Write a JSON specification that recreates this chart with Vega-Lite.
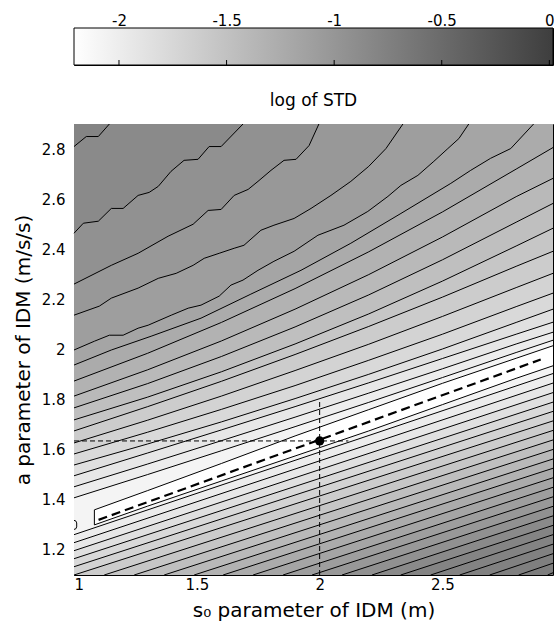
{
  "$schema": "https://vega.github.io/schema/vega-lite/v6.json",
  "padding": {"left": 12, "top": 12, "right": 2, "bottom": 2},
  "background": "white",
  "config": {
    "font": "DejaVu Sans",
    "axis": {"labelFont": "DejaVu Sans", "labelFontSize": 15, "labelColor": "black", "titleFont": "DejaVu Sans", "titleFontSize": 20, "titleFontWeight": "normal", "titleColor": "black", "domain": false, "grid": false, "tickColor": "black", "tickSize": -5, "labelPadding": 11},
    "title": {"font": "DejaVu Sans", "fontSize": 17, "fontWeight": "normal", "color": "black"},
    "view": {"stroke": "black"}
  },
  "datasets": {
    "loop": [
      {"x": 1.083, "lo": 1.300, "hi": 1.360},
      {"x": 1.3, "lo": 1.375, "hi": 1.437},
      {"x": 1.6, "lo": 1.475, "hi": 1.545},
      {"x": 1.9, "lo": 1.575, "hi": 1.655},
      {"x": 2.2, "lo": 1.675, "hi": 1.760},
      {"x": 2.5, "lo": 1.780, "hi": 1.865},
      {"x": 2.8, "lo": 1.885, "hi": 1.965},
      {"x": 2.95, "lo": 1.935, "hi": 2.015}
    ],
    "lines": [
      {"id": "P2", "k": 2, "s": "up", "x": 1.0, "y": 1.408}, {"id": "P2", "k": 2, "s": "up", "x": 1.3, "y": 1.501}, {"id": "P2", "k": 2, "s": "up", "x": 1.6, "y": 1.596}, {"id": "P2", "k": 2, "s": "up", "x": 1.9, "y": 1.692}, {"id": "P2", "k": 2, "s": "up", "x": 2.2, "y": 1.789}, {"id": "P2", "k": 2, "s": "up", "x": 2.5, "y": 1.888}, {"id": "P2", "k": 2, "s": "up", "x": 2.8, "y": 1.988}, {"id": "P2", "k": 2, "s": "up", "x": 2.95, "y": 2.037},
      {"id": "P", "k": 3, "s": "up", "x": 1.0, "y": 1.452}, {"id": "P", "k": 3, "s": "up", "x": 1.3, "y": 1.543}, {"id": "P", "k": 3, "s": "up", "x": 1.6, "y": 1.636}, {"id": "P", "k": 3, "s": "up", "x": 1.9, "y": 1.730}, {"id": "P", "k": 3, "s": "up", "x": 2.2, "y": 1.826}, {"id": "P", "k": 3, "s": "up", "x": 2.5, "y": 1.923}, {"id": "P", "k": 3, "s": "up", "x": 2.8, "y": 2.022}, {"id": "P", "k": 3, "s": "up", "x": 2.95, "y": 2.069},
      {"id": "O", "k": 4, "s": "up", "x": 1.0, "y": 1.496}, {"id": "O", "k": 4, "s": "up", "x": 1.3, "y": 1.587}, {"id": "O", "k": 4, "s": "up", "x": 1.6, "y": 1.679}, {"id": "O", "k": 4, "s": "up", "x": 1.9, "y": 1.772}, {"id": "O", "k": 4, "s": "up", "x": 2.2, "y": 1.867}, {"id": "O", "k": 4, "s": "up", "x": 2.5, "y": 1.964}, {"id": "O", "k": 4, "s": "up", "x": 2.8, "y": 2.061}, {"id": "O", "k": 4, "s": "up", "x": 2.95, "y": 2.109},
      {"id": "N", "k": 5, "s": "up", "x": 1.0, "y": 1.539}, {"id": "N", "k": 5, "s": "up", "x": 1.3, "y": 1.623}, {"id": "N", "k": 5, "s": "up", "x": 1.6, "y": 1.711}, {"id": "N", "k": 5, "s": "up", "x": 1.9, "y": 1.804}, {"id": "N", "k": 5, "s": "up", "x": 2.2, "y": 1.901}, {"id": "N", "k": 5, "s": "up", "x": 2.5, "y": 2.002}, {"id": "N", "k": 5, "s": "up", "x": 2.8, "y": 2.108}, {"id": "N", "k": 5, "s": "up", "x": 2.95, "y": 2.161},
      {"id": "M", "k": 6, "s": "up", "x": 1.0, "y": 1.583}, {"id": "M", "k": 6, "s": "up", "x": 1.3, "y": 1.670}, {"id": "M", "k": 6, "s": "up", "x": 1.6, "y": 1.761}, {"id": "M", "k": 6, "s": "up", "x": 1.9, "y": 1.856}, {"id": "M", "k": 6, "s": "up", "x": 2.2, "y": 1.957}, {"id": "M", "k": 6, "s": "up", "x": 2.5, "y": 2.061}, {"id": "M", "k": 6, "s": "up", "x": 2.8, "y": 2.171}, {"id": "M", "k": 6, "s": "up", "x": 2.95, "y": 2.225},
      {"id": "L", "k": 7, "s": "up", "x": 1.0, "y": 1.627}, {"id": "L", "k": 7, "s": "up", "x": 1.3, "y": 1.718}, {"id": "L", "k": 7, "s": "up", "x": 1.6, "y": 1.814}, {"id": "L", "k": 7, "s": "up", "x": 1.9, "y": 1.916}, {"id": "L", "k": 7, "s": "up", "x": 2.2, "y": 2.021}, {"id": "L", "k": 7, "s": "up", "x": 2.5, "y": 2.132}, {"id": "L", "k": 7, "s": "up", "x": 2.8, "y": 2.247}, {"id": "L", "k": 7, "s": "up", "x": 2.95, "y": 2.304},
      {"id": "K", "k": 8, "s": "up", "x": 1.0, "y": 1.675}, {"id": "K", "k": 8, "s": "up", "x": 1.3, "y": 1.772}, {"id": "K", "k": 8, "s": "up", "x": 1.6, "y": 1.873}, {"id": "K", "k": 8, "s": "up", "x": 1.9, "y": 1.980}, {"id": "K", "k": 8, "s": "up", "x": 2.2, "y": 2.092}, {"id": "K", "k": 8, "s": "up", "x": 2.5, "y": 2.209}, {"id": "K", "k": 8, "s": "up", "x": 2.8, "y": 2.332}, {"id": "K", "k": 8, "s": "up", "x": 2.95, "y": 2.392},
      {"id": "J", "k": 9, "s": "up", "x": 1.0, "y": 1.719}, {"id": "J", "k": 9, "s": "up", "x": 1.3, "y": 1.810}, {"id": "J", "k": 9, "s": "up", "x": 1.6, "y": 1.911}, {"id": "J", "k": 9, "s": "up", "x": 1.9, "y": 2.022}, {"id": "J", "k": 9, "s": "up", "x": 2.2, "y": 2.142}, {"id": "J", "k": 9, "s": "up", "x": 2.5, "y": 2.273}, {"id": "J", "k": 9, "s": "up", "x": 2.8, "y": 2.413}, {"id": "J", "k": 9, "s": "up", "x": 2.95, "y": 2.484},
      {"id": "I", "k": 10, "s": "up", "x": 1.0, "y": 1.767}, {"id": "I", "k": 10, "s": "up", "x": 1.3, "y": 1.864}, {"id": "I", "k": 10, "s": "up", "x": 1.6, "y": 1.972}, {"id": "I", "k": 10, "s": "up", "x": 1.9, "y": 2.090}, {"id": "I", "k": 10, "s": "up", "x": 2.2, "y": 2.218}, {"id": "I", "k": 10, "s": "up", "x": 2.5, "y": 2.358}, {"id": "I", "k": 10, "s": "up", "x": 2.8, "y": 2.508}, {"id": "I", "k": 10, "s": "up", "x": 2.95, "y": 2.583},
      {"id": "H", "k": 11, "s": "up", "x": 1.0, "y": 1.814}, {"id": "H", "k": 11, "s": "up", "x": 1.3, "y": 1.919}, {"id": "H", "k": 11, "s": "up", "x": 1.6, "y": 2.034}, {"id": "H", "k": 11, "s": "up", "x": 1.9, "y": 2.161}, {"id": "H", "k": 11, "s": "up", "x": 2.2, "y": 2.299}, {"id": "H", "k": 11, "s": "up", "x": 2.5, "y": 2.449}, {"id": "H", "k": 11, "s": "up", "x": 2.8, "y": 2.610}, {"id": "H", "k": 11, "s": "up", "x": 2.95, "y": 2.683},
      {"id": "G", "k": 12, "s": "up", "x": 1.0, "y": 1.874}, {"id": "G", "k": 12, "s": "up", "x": 1.3, "y": 1.985}, {"id": "G", "k": 12, "s": "up", "x": 1.6, "y": 2.108}, {"id": "G", "k": 12, "s": "up", "x": 1.9, "y": 2.243}, {"id": "G", "k": 12, "s": "up", "x": 2.2, "y": 2.390}, {"id": "G", "k": 12, "s": "up", "x": 2.5, "y": 2.549}, {"id": "G", "k": 12, "s": "up", "x": 2.8, "y": 2.720}, {"id": "G", "k": 12, "s": "up", "x": 2.95, "y": 2.806},
      {"id": "F", "k": 13, "s": "up", "x": 1.0, "y": 1.938}, {"id": "F", "k": 13, "s": "up", "x": 1.152, "y": 1.998}, {"id": "F", "k": 13, "s": "up", "x": 1.314, "y": 2.053}, {"id": "F", "k": 13, "s": "up", "x": 1.517, "y": 2.125}, {"id": "F", "k": 13, "s": "up", "x": 1.72, "y": 2.221}, {"id": "F", "k": 13, "s": "up", "x": 1.924, "y": 2.316}, {"id": "F", "k": 13, "s": "up", "x": 2.127, "y": 2.424}, {"id": "F", "k": 13, "s": "up", "x": 2.331, "y": 2.543}, {"id": "F", "k": 13, "s": "up", "x": 2.534, "y": 2.663}, {"id": "F", "k": 13, "s": "up", "x": 2.615, "y": 2.715}, {"id": "F", "k": 13, "s": "up", "x": 2.696, "y": 2.763}, {"id": "F", "k": 13, "s": "up", "x": 2.778, "y": 2.802}, {"id": "F", "k": 13, "s": "up", "x": 2.871, "y": 2.9},
      {"id": "E", "k": 14, "s": "up", "x": 1.0, "y": 1.998}, {"id": "E", "k": 14, "s": "up", "x": 1.083, "y": 2.033}, {"id": "E", "k": 14, "s": "up", "x": 1.144, "y": 2.057}, {"id": "E", "k": 14, "s": "up", "x": 1.2, "y": 2.057}, {"id": "E", "k": 14, "s": "up", "x": 1.261, "y": 2.085}, {"id": "E", "k": 14, "s": "up", "x": 1.302, "y": 2.097}, {"id": "E", "k": 14, "s": "up", "x": 1.396, "y": 2.137}, {"id": "E", "k": 14, "s": "up", "x": 1.465, "y": 2.165}, {"id": "E", "k": 14, "s": "up", "x": 1.517, "y": 2.177}, {"id": "E", "k": 14, "s": "up", "x": 1.591, "y": 2.213}, {"id": "E", "k": 14, "s": "up", "x": 1.639, "y": 2.257}, {"id": "E", "k": 14, "s": "up", "x": 1.688, "y": 2.277}, {"id": "E", "k": 14, "s": "up", "x": 1.749, "y": 2.316}, {"id": "E", "k": 14, "s": "up", "x": 1.814, "y": 2.352}, {"id": "E", "k": 14, "s": "up", "x": 1.896, "y": 2.392}, {"id": "E", "k": 14, "s": "up", "x": 1.993, "y": 2.456}, {"id": "E", "k": 14, "s": "up", "x": 2.099, "y": 2.496}, {"id": "E", "k": 14, "s": "up", "x": 2.196, "y": 2.551}, {"id": "E", "k": 14, "s": "up", "x": 2.278, "y": 2.611}, {"id": "E", "k": 14, "s": "up", "x": 2.331, "y": 2.655}, {"id": "E", "k": 14, "s": "up", "x": 2.4, "y": 2.695}, {"id": "E", "k": 14, "s": "up", "x": 2.465, "y": 2.751}, {"id": "E", "k": 14, "s": "up", "x": 2.522, "y": 2.802}, {"id": "E", "k": 14, "s": "up", "x": 2.567, "y": 2.842}, {"id": "E", "k": 14, "s": "up", "x": 2.607, "y": 2.9},
      {"id": "D", "k": 15, "s": "up", "x": 1.0, "y": 2.137}, {"id": "D", "k": 15, "s": "up", "x": 1.103, "y": 2.173}, {"id": "D", "k": 15, "s": "up", "x": 1.152, "y": 2.205}, {"id": "D", "k": 15, "s": "up", "x": 1.261, "y": 2.245}, {"id": "D", "k": 15, "s": "up", "x": 1.343, "y": 2.284}, {"id": "D", "k": 15, "s": "up", "x": 1.416, "y": 2.304}, {"id": "D", "k": 15, "s": "up", "x": 1.485, "y": 2.336}, {"id": "D", "k": 15, "s": "up", "x": 1.53, "y": 2.364}, {"id": "D", "k": 15, "s": "up", "x": 1.591, "y": 2.384}, {"id": "D", "k": 15, "s": "up", "x": 1.652, "y": 2.404}, {"id": "D", "k": 15, "s": "up", "x": 1.692, "y": 2.416}, {"id": "D", "k": 15, "s": "up", "x": 1.761, "y": 2.476}, {"id": "D", "k": 15, "s": "up", "x": 1.814, "y": 2.496}, {"id": "D", "k": 15, "s": "up", "x": 1.896, "y": 2.523}, {"id": "D", "k": 15, "s": "up", "x": 1.965, "y": 2.563}, {"id": "D", "k": 15, "s": "up", "x": 2.046, "y": 2.615}, {"id": "D", "k": 15, "s": "up", "x": 2.127, "y": 2.671}, {"id": "D", "k": 15, "s": "up", "x": 2.2, "y": 2.731}, {"id": "D", "k": 15, "s": "up", "x": 2.27, "y": 2.802}, {"id": "D", "k": 15, "s": "up", "x": 2.339, "y": 2.9},
      {"id": "C", "k": 16, "s": "up", "x": 1.0, "y": 2.261}, {"id": "C", "k": 16, "s": "up", "x": 1.152, "y": 2.336}, {"id": "C", "k": 16, "s": "up", "x": 1.261, "y": 2.384}, {"id": "C", "k": 16, "s": "up", "x": 1.383, "y": 2.452}, {"id": "C", "k": 16, "s": "up", "x": 1.485, "y": 2.5}, {"id": "C", "k": 16, "s": "up", "x": 1.546, "y": 2.555}, {"id": "C", "k": 16, "s": "up", "x": 1.599, "y": 2.559}, {"id": "C", "k": 16, "s": "up", "x": 1.652, "y": 2.615}, {"id": "C", "k": 16, "s": "up", "x": 1.709, "y": 2.639}, {"id": "C", "k": 16, "s": "up", "x": 1.749, "y": 2.671}, {"id": "C", "k": 16, "s": "up", "x": 1.802, "y": 2.715}, {"id": "C", "k": 16, "s": "up", "x": 1.855, "y": 2.755}, {"id": "C", "k": 16, "s": "up", "x": 1.904, "y": 2.759}, {"id": "C", "k": 16, "s": "up", "x": 1.957, "y": 2.814}, {"id": "C", "k": 16, "s": "up", "x": 1.997, "y": 2.9},
      {"id": "B", "k": 17, "s": "up", "x": 1.0, "y": 2.464}, {"id": "B", "k": 17, "s": "up", "x": 1.038, "y": 2.504}, {"id": "B", "k": 17, "s": "up", "x": 1.099, "y": 2.512}, {"id": "B", "k": 17, "s": "up", "x": 1.152, "y": 2.563}, {"id": "B", "k": 17, "s": "up", "x": 1.2, "y": 2.563}, {"id": "B", "k": 17, "s": "up", "x": 1.261, "y": 2.615}, {"id": "B", "k": 17, "s": "up", "x": 1.306, "y": 2.627}, {"id": "B", "k": 17, "s": "up", "x": 1.343, "y": 2.651}, {"id": "B", "k": 17, "s": "up", "x": 1.395, "y": 2.711}, {"id": "B", "k": 17, "s": "up", "x": 1.448, "y": 2.755}, {"id": "B", "k": 17, "s": "up", "x": 1.505, "y": 2.759}, {"id": "B", "k": 17, "s": "up", "x": 1.55, "y": 2.81}, {"id": "B", "k": 17, "s": "up", "x": 1.599, "y": 2.81}, {"id": "B", "k": 17, "s": "up", "x": 1.688, "y": 2.9},
      {"id": "A", "k": 18, "s": "up", "x": 1.0, "y": 2.81}, {"id": "A", "k": 18, "s": "up", "x": 1.05, "y": 2.85}, {"id": "A", "k": 18, "s": "up", "x": 1.099, "y": 2.85}, {"id": "A", "k": 18, "s": "up", "x": 1.144, "y": 2.9},
      {"id": "R2", "k": 2, "s": "low", "x": 1.0, "y": 1.261}, {"id": "R2", "k": 2, "s": "low", "x": 2.95, "y": 1.904},
      {"id": "R3", "k": 3, "s": "low", "x": 1.0, "y": 1.229}, {"id": "R3", "k": 3, "s": "low", "x": 2.95, "y": 1.866},
      {"id": "R4", "k": 4, "s": "low", "x": 1.0, "y": 1.197}, {"id": "R4", "k": 4, "s": "low", "x": 2.95, "y": 1.828},
      {"id": "R5", "k": 5, "s": "low", "x": 1.0, "y": 1.165}, {"id": "R5", "k": 5, "s": "low", "x": 2.95, "y": 1.790},
      {"id": "R6", "k": 6, "s": "low", "x": 1.0, "y": 1.133}, {"id": "R6", "k": 6, "s": "low", "x": 2.95, "y": 1.753},
      {"id": "R7", "k": 7, "s": "low", "x": 1.0, "y": 1.1}, {"id": "R7", "k": 7, "s": "low", "x": 2.95, "y": 1.715},
      {"id": "R8", "k": 8, "s": "low", "x": 1.123, "y": 1.1}, {"id": "R8", "k": 8, "s": "low", "x": 2.95, "y": 1.677},
      {"id": "R9", "k": 9, "s": "low", "x": 1.245, "y": 1.1}, {"id": "R9", "k": 9, "s": "low", "x": 2.95, "y": 1.639},
      {"id": "R10", "k": 10, "s": "low", "x": 1.367, "y": 1.1}, {"id": "R10", "k": 10, "s": "low", "x": 2.95, "y": 1.601},
      {"id": "R11", "k": 11, "s": "low", "x": 1.489, "y": 1.1}, {"id": "R11", "k": 11, "s": "low", "x": 2.95, "y": 1.563},
      {"id": "R12", "k": 12, "s": "low", "x": 1.607, "y": 1.1}, {"id": "R12", "k": 12, "s": "low", "x": 2.95, "y": 1.526},
      {"id": "R13", "k": 13, "s": "low", "x": 1.729, "y": 1.1}, {"id": "R13", "k": 13, "s": "low", "x": 2.95, "y": 1.488},
      {"id": "R14", "k": 14, "s": "low", "x": 1.851, "y": 1.1}, {"id": "R14", "k": 14, "s": "low", "x": 2.95, "y": 1.450},
      {"id": "R15", "k": 15, "s": "low", "x": 1.969, "y": 1.1}, {"id": "R15", "k": 15, "s": "low", "x": 2.95, "y": 1.412},
      {"id": "R16", "k": 16, "s": "low", "x": 2.091, "y": 1.1}, {"id": "R16", "k": 16, "s": "low", "x": 2.95, "y": 1.374},
      {"id": "R17", "k": 17, "s": "low", "x": 2.213, "y": 1.1}, {"id": "R17", "k": 17, "s": "low", "x": 2.95, "y": 1.336},
      {"id": "R18", "k": 18, "s": "low", "x": 2.33, "y": 1.1}, {"id": "R18", "k": 18, "s": "low", "x": 2.95, "y": 1.298},
      {"id": "R19", "k": 19, "s": "low", "x": 2.452, "y": 1.1}, {"id": "R19", "k": 19, "s": "low", "x": 2.95, "y": 1.261},
      {"id": "R20", "k": 20, "s": "low", "x": 2.57, "y": 1.1}, {"id": "R20", "k": 20, "s": "low", "x": 2.95, "y": 1.223},
      {"id": "R21", "k": 21, "s": "low", "x": 2.692, "y": 1.1}, {"id": "R21", "k": 21, "s": "low", "x": 2.95, "y": 1.185},
      {"id": "R22", "k": 22, "s": "low", "x": 2.81, "y": 1.1}, {"id": "R22", "k": 22, "s": "low", "x": 2.95, "y": 1.147},
      {"id": "R23", "k": 23, "s": "low", "x": 2.928, "y": 1.1}, {"id": "R23", "k": 23, "s": "low", "x": 2.95, "y": 1.109},
      {"id": "loop", "k": 1, "s": "loop", "x": 2.95, "y": 1.935}, {"id": "loop", "k": 1, "s": "loop", "x": 2.8, "y": 1.885}, {"id": "loop", "k": 1, "s": "loop", "x": 2.5, "y": 1.780}, {"id": "loop", "k": 1, "s": "loop", "x": 2.2, "y": 1.675}, {"id": "loop", "k": 1, "s": "loop", "x": 1.9, "y": 1.575}, {"id": "loop", "k": 1, "s": "loop", "x": 1.6, "y": 1.475}, {"id": "loop", "k": 1, "s": "loop", "x": 1.3, "y": 1.375}, {"id": "loop", "k": 1, "s": "loop", "x": 1.083, "y": 1.300}, {"id": "loop", "k": 1, "s": "loop", "x": 1.083, "y": 1.360}, {"id": "loop", "k": 1, "s": "loop", "x": 1.3, "y": 1.437}, {"id": "loop", "k": 1, "s": "loop", "x": 1.6, "y": 1.545}, {"id": "loop", "k": 1, "s": "loop", "x": 1.9, "y": 1.655}, {"id": "loop", "k": 1, "s": "loop", "x": 2.2, "y": 1.760}, {"id": "loop", "k": 1, "s": "loop", "x": 2.5, "y": 1.865}, {"id": "loop", "k": 1, "s": "loop", "x": 2.8, "y": 1.965}, {"id": "loop", "k": 1, "s": "loop", "x": 2.95, "y": 2.015},
      {"id": "isl", "k": 0, "s": "loop", "x": 1.0, "y": 1.318}, {"id": "isl", "k": 0, "s": "loop", "x": 1.007, "y": 1.316}, {"id": "isl", "k": 0, "s": "loop", "x": 1.011, "y": 1.308}, {"id": "isl", "k": 0, "s": "loop", "x": 1.011, "y": 1.292}, {"id": "isl", "k": 0, "s": "loop", "x": 1.007, "y": 1.284}, {"id": "isl", "k": 0, "s": "loop", "x": 1.0, "y": 1.282}
    ]
  },
  "spacing": 25,
  "vconcat": [
    {
      "width": 479,
      "height": 37,
      "layer": [
        {
          "data": {"values": [{"lo": -2.209, "hi": 0.017, "b": 0, "t": 1}]},
          "mark": {"type": "rect", "stroke": "black", "strokeWidth": 1, "fill": {"gradient": "linear", "x1": 0, "x2": 1, "y1": 0, "y2": 0, "stops": [{"offset": 0, "color": "#ffffff"}, {"offset": 1, "color": "#3e3e3e"}]}},
          "encoding": {
            "x": {"field": "lo", "type": "quantitative", "scale": {"domain": [-2.209, 0.017], "nice": false, "zero": false}, "axis": {"orient": "top", "values": [-2, -1.5, -1, -0.5, 0], "title": null, "labelExpr": "'' + datum.value", "labelPadding": 5}},
            "x2": {"field": "hi"},
            "y": {"field": "b", "type": "quantitative", "scale": {"domain": [0, 1], "nice": false, "zero": false}, "axis": null},
            "y2": {"field": "t"}
          }
        },
        {
          "data": {"values": [{"v": -2, "b": 0, "t": 0.135}, {"v": -1.5, "b": 0, "t": 0.135}, {"v": -1, "b": 0, "t": 0.135}, {"v": -0.5, "b": 0, "t": 0.135}, {"v": 0, "b": 0, "t": 0.135}]},
          "mark": {"type": "rule", "color": "black", "strokeWidth": 1},
          "encoding": {
            "x": {"field": "v", "type": "quantitative"},
            "y": {"field": "b", "type": "quantitative"},
            "y2": {"field": "t"}
          }
        }
      ]
    },
    {
      "width": 479,
      "height": 451,
      "title": {"text": "log of STD", "offset": 12, "frame": "group"},
      "layer": [
        {
          "data": {"values": [{"x0": 1, "x1": 2.95, "y0": 1.1, "y1": 2.9}]},
          "mark": {"type": "rect", "color": "#f4f4f4"},
          "encoding": {
            "x": {"field": "x0", "type": "quantitative", "scale": {"domain": [1, 2.95], "nice": false, "zero": false}, "axis": {"values": [1, 1.5, 2, 2.5], "title": "s₀ parameter of IDM (m)", "labelExpr": "'' + datum.value", "titlePadding": 8, "labelPadding": 7}},
            "x2": {"field": "x1"},
            "y": {"field": "y0", "type": "quantitative", "scale": {"domain": [1.1, 2.9], "nice": false, "zero": false}, "axis": {"values": [1.2, 1.4, 1.6, 1.8, 2, 2.2, 2.4, 2.6, 2.8], "title": "a parameter of IDM (m/s/s)", "labelExpr": "'' + datum.value", "titlePadding": 8, "labelPadding": 14}},
            "y2": {"field": "y1"}
          }
        },
        {
          "data": {"name": "loop"},
          "mark": {"type": "area", "color": "#ffffff"},
          "encoding": {
            "x": {"field": "x", "type": "quantitative", "axis": null},
            "y": {"field": "lo", "type": "quantitative", "axis": null},
            "y2": {"field": "hi"}
          }
        },
        {
          "data": {"name": "lines"},
          "transform": [{"filter": "datum.s == 'up'"}],
          "mark": {"type": "area"},
          "encoding": {
            "x": {"field": "x", "type": "quantitative", "axis": null},
            "y": {"field": "y", "type": "quantitative", "axis": null},
            "y2": {"datum": 2.9},
            "color": {"field": "k", "type": "ordinal", "scale": {"domain": [0,1,2,3,4,5,6,7,8,9,10,11,12,13,14,15,16,17,18,19,20,21,22,23], "range": ["#ffffff","#f4f4f4","#ededed","#e7e7e7","#e0e0e0","#d9d9d9","#d3d3d3","#cccccc","#c6c6c6","#bfbfbf","#b9b9b9","#b2b2b2","#ababab","#a5a5a5","#9e9e9e","#989898","#919191","#8a8a8a","#848484","#838383","#818181","#7f7f7f","#7d7d7d","#7b7b7b"]}, "legend": null},
            "detail": {"field": "id"}
          }
        },
        {
          "data": {"name": "lines"},
          "transform": [{"filter": "datum.s == 'low'"}],
          "mark": {"type": "area"},
          "encoding": {
            "x": {"field": "x", "type": "quantitative", "axis": null},
            "y": {"field": "y", "type": "quantitative", "axis": null},
            "y2": {"datum": 1.1},
            "color": {"field": "k", "type": "ordinal", "legend": null},
            "detail": {"field": "id"}
          }
        },
        {
          "data": {"name": "lines"},
          "mark": {"type": "line", "color": "black", "strokeWidth": 1},
          "encoding": {
            "x": {"field": "x", "type": "quantitative", "axis": null},
            "y": {"field": "y", "type": "quantitative", "axis": null},
            "detail": {"field": "id"},
            "order": {"value": null}
          }
        },
        {
          "data": {"values": [{"x": 1.1, "y": 1.32}, {"x": 2.9, "y": 1.96}]},
          "mark": {"type": "line", "color": "black", "strokeWidth": 2.2, "strokeDash": [9, 5]},
          "encoding": {
            "x": {"field": "x", "type": "quantitative", "axis": null},
            "y": {"field": "y", "type": "quantitative", "axis": null}
          }
        },
        {
          "data": {"values": [{"x": 2, "y": 1.1, "y2": 1.794}]},
          "mark": {"type": "rule", "color": "black", "strokeWidth": 1, "strokeDash": [5, 3]},
          "encoding": {
            "x": {"field": "x", "type": "quantitative", "axis": null},
            "y": {"field": "y", "type": "quantitative", "axis": null},
            "y2": {"field": "y2"}
          }
        },
        {
          "data": {"values": [{"x": 1, "x2": 2.117, "y": 1.635}]},
          "mark": {"type": "rule", "color": "black", "strokeWidth": 1, "strokeDash": [5, 3]},
          "encoding": {
            "x": {"field": "x", "type": "quantitative", "axis": null},
            "x2": {"field": "x2"},
            "y": {"field": "y", "type": "quantitative", "axis": null}
          }
        },
        {
          "data": {"values": [{"x": 2, "y": 1.635}]},
          "mark": {"type": "point", "filled": true, "color": "black", "size": 85, "opacity": 1},
          "encoding": {
            "x": {"field": "x", "type": "quantitative", "axis": {"orient": "top", "values": [1, 1.5, 2, 2.5], "labels": false, "title": null}},
            "y": {"field": "y", "type": "quantitative", "axis": {"orient": "right", "values": [1.2, 1.4, 1.6, 1.8, 2, 2.2, 2.4, 2.6, 2.8], "labels": false, "title": null}}
          }
        }
      ],
      "resolve": {"axis": {"x": "independent", "y": "independent"}}
    }
  ]
}
